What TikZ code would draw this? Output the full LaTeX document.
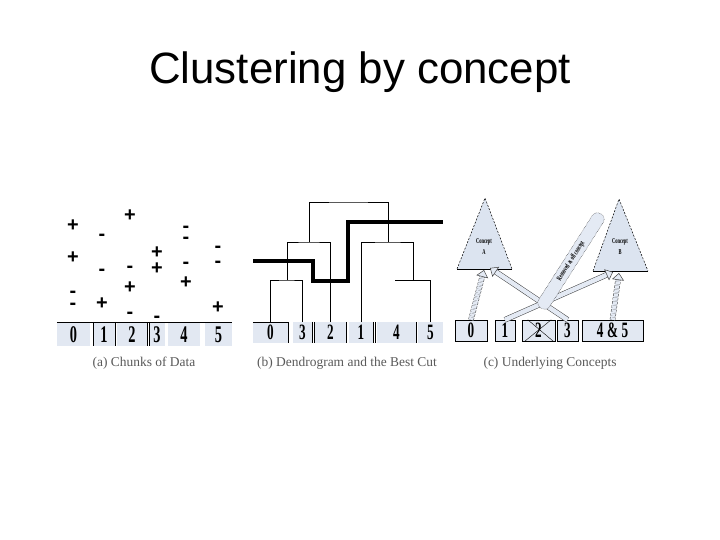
\documentclass[tikz,border=0pt]{standalone}
\usepackage{fontspec}
\setmainfont{Liberation Serif}
\newfontfamily\headfont{Liberation Sans}
\newfontfamily\signfont{Liberation Sans}
\newfontfamily\chunkfont[FakeStretch=0.6]{Liberation Serif}
\usepackage{xcolor}
\definecolor{chunkfill}{HTML}{E2E8F2}
\definecolor{bandfill}{HTML}{E4EAF4}
\definecolor{conceptfill}{HTML}{DCE4F0}
\definecolor{captiongray}{rgb}{0.35,0.35,0.35}
\usepackage{tikz}
\usetikzlibrary{positioning,calc,arrows.meta}
\newcommand{\chunkplus}[2]{
\node (#1) [plussign] at (#2) {+};}
\newcommand{\chunkminus}[2]{
\node (#1) [minussign] at (#2) {-};}
\newcommand{\bandarrow}[3]{
\draw[bandfill, line width=5pt, shorten >=6pt] (#1) -- (#2);
\draw[#3, shorten >=6pt] (#1) -- (#2);
\draw[bandhead] ($(#2)!9pt!(#1)$) -- (#2);}
\tikzstyle{chunk}=[rectangle, fill=chunkfill, inner sep=0pt, text height=14.9pt, text depth=0pt,
        font=\chunkfont\bfseries\fontsize{22}{22}\selectfont]
\tikzstyle{chunkA}=[chunk, minimum height=24, text height=16.2pt, font=\chunkfont\bfseries\fontsize{24}{24}\selectfont]
\tikzstyle{chunkB}=[chunk, minimum height=21]
\tikzstyle{chunkC}=[chunk, draw=black, line width=0.5pt, minimum height=21]
\tikzstyle{sign}=[inner sep=0pt, anchor=base, font=\signfont\bfseries\fontsize{20}{20}\selectfont]
\tikzstyle{plussign}=[sign, yshift=-6.8pt]
\tikzstyle{minussign}=[sign, yshift=-5.6pt]
\tikzstyle{caption}=[anchor=base, text=captiongray, font=\fontsize{13.5}{14}\selectfont]
\tikzstyle{dendro}=[line width=0.9pt]
\tikzstyle{bestcut}=[line width=3.5pt]
\tikzstyle{band}=[draw=black!75, line width=0.5pt, double=bandfill, double distance=4.5pt]
\tikzstyle{dashedband}=[band, dash pattern=on 2.5pt off 1.5pt]
\tikzstyle{bandhead}=[draw=bandfill, line width=0.5pt, -{Triangle[length=7pt, width=12pt, fill=bandfill, color=black!75]}]
\tikzstyle{conceptside}=[draw=black, line width=0.5pt, dash pattern=on 2pt off 1.5pt]
\tikzstyle{conceptlabel}=[align=center, inner sep=0pt, font=\chunkfont\bfseries\fontsize{7.5}{11}\selectfont]
\tikzstyle{noteband}=[rectangle, rounded corners=6pt, fill=bandfill, draw=black, densely dotted,
        minimum width=112, minimum height=13, inner sep=1pt, font=\chunkfont\bfseries\fontsize{7.5}{8}\selectfont]

\begin{document}
\begin{tikzpicture}[x=1bp, y=-1bp]
\fill[white] (0,0) rectangle (720,540);
\useasboundingbox (0,0) rectangle (720,540);

\node (title) [anchor=base, font=\headfont\fontsize{44}{50}\selectfont] at (360,84) {Clustering by concept};

\node (a0) [chunkA, minimum width=33] at (73.5,334) {0};
\node (a1) [chunkA, minimum width=22] at (104,334) {1};
\node (a2) [chunkA, minimum width=30] at (132,334) {2};
\node (a3) [chunkA, minimum width=16] at (157,334) {3};
\node (a4) [chunkA, minimum width=32] at (184,334) {4};
\node (a5) [chunkA, minimum width=27] at (218.5,334) {5};
\draw (a0.north west) -- (a5.north east);
\draw (a1.north west) -- (a1.south west);
\draw (a1.north east) -- (a1.south east);
\draw (a2.north east) -- (a2.south east);
\draw (a3.north west) -- (a3.south west);

\chunkplus{s0a}{73,225}
\chunkplus{s0b}{73,257}
\chunkminus{s0c}{73,292}
\chunkminus{s0d}{73,304}
\chunkminus{s1a}{102,235}
\chunkminus{s1b}{102,270}
\chunkplus{s1c}{102,303}
\chunkplus{s2a}{130,215}
\chunkminus{s2b}{130,267}
\chunkplus{s2c}{130,287}
\chunkminus{s2d}{130,313}
\chunkplus{s3a}{157,252}
\chunkplus{s3b}{157,268}
\chunkminus{s3c}{157,317}
\chunkminus{s4a}{186,227}
\chunkminus{s4b}{186,238}
\chunkminus{s4c}{186,263}
\chunkplus{s4d}{186,282}
\chunkminus{s5a}{218,247}
\chunkminus{s5b}{218,262}
\chunkplus{s5c}{218,307}

\node (capA) [caption] at (144,366) {(a) Chunks of Data};

\node (b0) [chunkB, minimum width=35] at (270.5,332.5) {0};
\node (b3) [chunkB, minimum width=19] at (302.5,332.5) {3};
\node (b2) [chunkB, minimum width=31] at (330.5,332.5) {2};
\node (b1) [chunkB, minimum width=24] at (361,332.5) {1};
\node (b4) [chunkB, minimum width=39] at (396.5,332.5) {4};
\node (b5) [chunkB, minimum width=25] at (430.5,332.5) {5};
\draw (b0.north west) -- (b0.north east) -- (b0.south east);
\draw (b3.north east) -- (b3.south east);
\draw ([xshift=2]b3.north east) -- ([xshift=2]b3.south east);
\draw (b2.north east) -- (b2.south east);
\draw (b1.north east) -- (b1.south east);
\draw ([xshift=2]b1.north east) -- ([xshift=2]b1.south east);
\draw (b4.north east) -- (b4.south east);

\coordinate (m03) at (287,280);
\coordinate (m032) at (309,242);
\coordinate (m4) at (395,280);
\coordinate (m45) at (413,280);
\coordinate (m145) at (388,242);
\coordinate (mtop) at (348,202);
\draw[dendro] (b0.north) |- (m03) -| (b3.north);
\draw[dendro] (m03) |- (m032) -| (b2.north);
\draw[dendro] (m4) -| (b5.north);
\draw[dendro] (b1.north) |- (m145) -| (m45);
\draw[dendro] (m032) |- (mtop) -| (m145);
\draw[bestcut] (253,261) -| (313,281) -| (348,222) -- (443,222);

\node (capB) [caption] at (347,366) {(b) Dendrogram and the Best Cut};

\fill[conceptfill] (485,198) -- (512,269) -- (457,269) -- cycle;
\draw[conceptside] (457,269) -- (485,198) -- (512,269);
\draw (457,269) -- (512,269);
\fill[conceptfill] (619,199) -- (648,271) -- (593,271) -- cycle;
\draw[conceptside] (593,271) -- (619,199) -- (648,271);
\draw (593,271) -- (648,271);
\node (conceptA) [conceptlabel] at (484,247) {Concept\\A};
\node (conceptB) [conceptlabel] at (620,247) {Concept\\B};

\node (c0) [chunkC, minimum width=32] at (471,330.5) {0};
\node (c1) [chunkC, minimum width=20] at (505,330.5) {1};
\node (c2) [chunkC, minimum width=33] at (538.5,330.5) {2};
\node (c3) [chunkC, minimum width=21] at (567.5,330.5) {3};
\node (c45) [chunkC, minimum width=61] at (612.5,330.5) {4\,\&\,5};
\draw ([xshift=3]c2.south west) -- ([xshift=-4]c2.north east);
\draw ([xshift=6]c2.north west) -- ([xshift=-2]c2.south east);

\coordinate (Aa) at (484,270);
\coordinate (Ab) at (490,268);
\coordinate (Ba) at (613,272);
\coordinate (Bb) at (619,273);
\bandarrow{c0.north}{Aa}{dashedband}
\bandarrow{c45.north}{Bb}{dashedband}
\bandarrow{c3.north}{Ab}{band}
\bandarrow{c1.north}{Ba}{band}
\node (note) [noteband, rotate=57.5] at (571,261) {Removed as off concept};

\node (capC) [caption] at (550,366) {(c) Underlying Concepts};

\end{tikzpicture}
\end{document}
